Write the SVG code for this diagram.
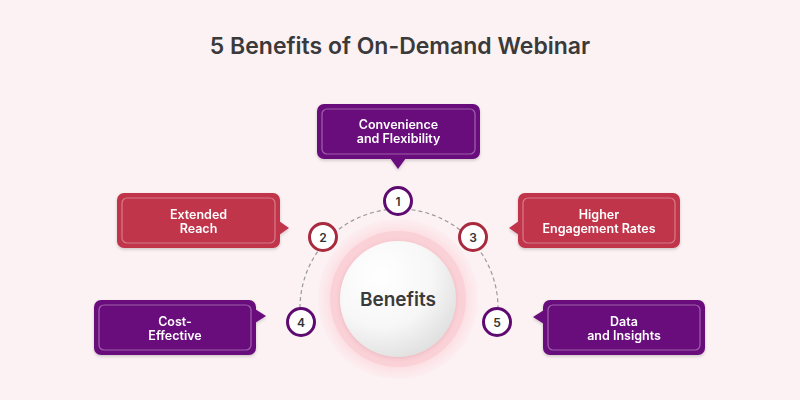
<svg xmlns="http://www.w3.org/2000/svg" width="800" height="400" viewBox="0 0 800 400">
<defs>
<style>
.title{font-family:Inter,"Open Sans","DejaVu Sans",sans-serif;font-weight:600;font-size:23px;fill:#3a3a3a;text-anchor:middle}
.lbl{font-family:Inter,"Open Sans","DejaVu Sans",sans-serif;font-weight:600;font-size:12.5px;fill:#ffffff;text-anchor:middle}
.num{font-family:Inter,"Open Sans","DejaVu Sans",sans-serif;font-weight:600;font-size:12px;fill:#333333;text-anchor:middle}
.center{font-family:Inter,"Open Sans","DejaVu Sans",sans-serif;font-weight:600;font-size:19px;fill:#3a3a3a;text-anchor:middle}
.purple{fill:#6a0d7c}
.red{fill:#c0344a}
.inner{fill:none;stroke:#ffffff;stroke-opacity:0.35;stroke-width:1.2}
.np{fill:#ffffff;stroke:#5e0a70;stroke-width:3}
.nr{fill:#ffffff;stroke:#a82a3e;stroke-width:3}
.arc{fill:none;stroke:#9a9a9a;stroke-width:1.2;stroke-dasharray:4 3}
</style>
<radialGradient id="halo" cx="0.5" cy="0.5" r="0.5">
<stop offset="0.85" stop-color="#fcdfe3"/>
<stop offset="1" stop-color="#fce6ea" stop-opacity="0.3"/>
</radialGradient>
<radialGradient id="white" cx="0.35" cy="0.3" r="0.8">
<stop offset="0" stop-color="#ffffff"/>
<stop offset="0.55" stop-color="#f7f7f7"/>
<stop offset="1" stop-color="#dcdcdc"/>
</radialGradient>
<filter id="sh" x="-10%" y="-10%" width="120%" height="130%">
<feDropShadow dx="0" dy="1.5" stdDeviation="1.5" flood-color="#000" flood-opacity="0.18"/>
</filter>
<filter id="csh" x="-20%" y="-20%" width="140%" height="140%">
<feDropShadow dx="0" dy="1" stdDeviation="2" flood-color="#b04050" flood-opacity="0.2"/>
</filter>
</defs>
<rect width="800" height="400" fill="#fcf1f3"/>
<text class="title" x="400" y="54">5 Benefits of On-Demand Webinar</text>

<g id="connectors">
<path class="arc" d="M 301 322 A 99 99 0 1 1 497 322"/>
</g>

<g id="center-node">
<circle cx="398" cy="299" r="80" fill="url(#halo)"/>
<circle cx="398" cy="299" r="68" fill="#fad1d7"/>
<circle cx="398" cy="299" r="58" fill="url(#white)" filter="url(#csh)"/>
<text class="center" x="398" y="305.5">Benefits</text>
</g>

<g id="n1">
<circle class="np" cx="398" cy="201" r="13.5"/>
<text class="num" x="398" y="205.5">1</text>
</g>
<g id="n2">
<circle class="nr" cx="323" cy="237" r="13.5"/>
<text class="num" x="323" y="241.5">2</text>
</g>
<g id="n3">
<circle class="nr" cx="473" cy="237" r="13.5"/>
<text class="num" x="473" y="241.5">3</text>
</g>
<g id="n4">
<circle class="np" cx="301" cy="322" r="13.5"/>
<text class="num" x="301" y="326.5">4</text>
</g>
<g id="n5">
<circle class="np" cx="497" cy="322" r="13.5"/>
<text class="num" x="497" y="326.5">5</text>
</g>

<g id="box1" filter="url(#sh)">
<rect class="purple" x="317" y="104" width="163" height="55" rx="7"/>
<polygon class="purple" points="390,158 406,158 398,169"/>
<rect class="inner" x="322" y="109" width="153" height="45" rx="5"/>
<text class="lbl" x="398.5" y="129">Convenience</text>
<text class="lbl" x="398.5" y="143">and Flexibility</text>
</g>

<g id="box2" filter="url(#sh)">
<rect class="red" x="117" y="193" width="163" height="55" rx="7"/>
<polygon class="red" points="279,221 279,235 289,228"/>
<rect class="inner" x="122" y="198" width="153" height="45" rx="5"/>
<text class="lbl" x="198.5" y="219">Extended</text>
<text class="lbl" x="198.5" y="233">Reach</text>
</g>

<g id="box3" filter="url(#sh)">
<rect class="red" x="518" y="193" width="162" height="55" rx="7"/>
<polygon class="red" points="519,221 519,235 509,228"/>
<rect class="inner" x="523" y="198" width="152" height="45" rx="5"/>
<text class="lbl" x="599" y="219">Higher</text>
<text class="lbl" x="599" y="233">Engagement Rates</text>
</g>

<g id="box4" filter="url(#sh)">
<rect class="purple" x="94" y="300" width="162" height="55" rx="7"/>
<polygon class="purple" points="255,309 255,323 266,316"/>
<rect class="inner" x="99" y="305" width="152" height="45" rx="5"/>
<text class="lbl" x="175" y="326">Cost-</text>
<text class="lbl" x="175" y="340">Effective</text>
</g>

<g id="box5" filter="url(#sh)">
<rect class="purple" x="543" y="300" width="162" height="55" rx="7"/>
<polygon class="purple" points="544,310 544,324 533,317"/>
<rect class="inner" x="548" y="305" width="152" height="45" rx="5"/>
<text class="lbl" x="624" y="326">Data</text>
<text class="lbl" x="624" y="340">and Insights</text>
</g>
</svg>
